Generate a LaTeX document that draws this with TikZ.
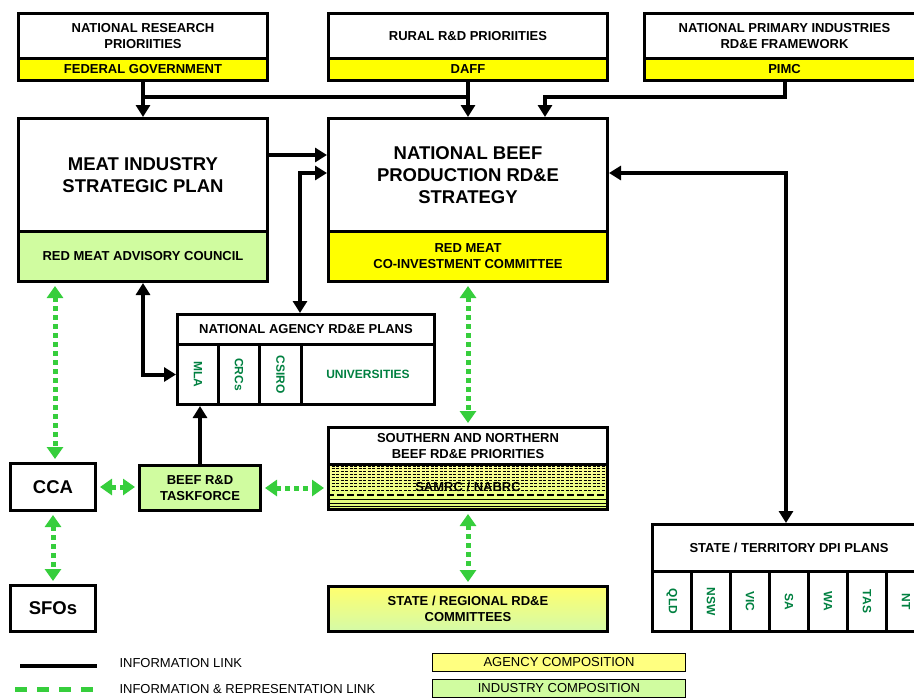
\documentclass[tikz,border=0pt]{standalone}
\usepackage{fontspec}
\setmainfont{Liberation Sans}
\usetikzlibrary{arrows.meta}
\usepackage{color}

\definecolor{band}{RGB}{255,255,0}
\definecolor{mint}{RGB}{208,252,160}
\definecolor{link}{RGB}{54,206,60}
\definecolor{agency}{RGB}{0,128,64}
\definecolor{paleyellow}{RGB}{255,255,128}
\definecolor{stripetop}{RGB}{255,255,150}
\definecolor{stripebot}{RGB}{225,255,120}
\definecolor{regtop}{RGB}{255,255,110}
\definecolor{regbot}{RGB}{212,250,168}

\begin{document}
\begin{tikzpicture}[x=1pt, y=-1pt,
    box/.style={draw, line width=3pt, anchor=north west, inner sep=0pt, align=center,
        font=\bfseries\fontsize{13}{16}\selectfont},
    title/.style={box, font=\bfseries\fontsize{18.5}{22}\selectfont},
    cell/.style={box, text=agency, font=\bfseries\fontsize{12}{14}\selectfont},
    info/.style={line width=4pt, -{Triangle[length=12pt,width=14pt]}},
    twoway/.style={line width=4pt, {Triangle[length=12pt,width=14pt]}-{Triangle[length=12pt,width=14pt]}},
    rep/.style={link, line width=5pt, dash pattern=on 5pt off 4pt,
        {Triangle[length=12pt,width=16pt]}-{Triangle[length=12pt,width=16pt]},
        shorten >=3pt, shorten <=3pt},
    key/.style={draw, line width=1pt, anchor=north west, minimum width=253pt, minimum height=18pt,
        inner sep=0pt, font=\fontsize{13}{16}\selectfont}]

    \clip (0,0) rectangle (914,697);

    % federal level
    \node[box, minimum width=249pt, minimum height=45pt] (nrp) at (17,12) {NATIONAL RESEARCH\\PRIORIITIES};
    \node[box, fill=band, minimum width=249pt, minimum height=22pt] (nrpband) at (17,57) {FEDERAL GOVERNMENT};

    \node[box, minimum width=279pt, minimum height=45pt] (rural) at (327,12) {RURAL R\&D PRIORIITIES};
    \node[box, fill=band, minimum width=279pt, minimum height=22pt] (ruralband) at (327,57) {DAFF};

    \node[box, minimum width=280pt, minimum height=45pt] (npi) at (643,12) {NATIONAL PRIMARY INDUSTRIES\\RD\&E FRAMEWORK};
    \node[box, fill=band, minimum width=280pt, minimum height=22pt] (npiband) at (643,57) {PIMC};

    % strategies
    \node[title, minimum width=249pt, minimum height=113pt] (misp) at (17,117) {MEAT INDUSTRY\\STRATEGIC PLAN};
    \node[box, fill=mint, minimum width=249pt, minimum height=50pt] (rmac) at (17,230) {RED MEAT ADVISORY COUNCIL};

    \node[title, minimum width=279pt, minimum height=113pt] (nbp) at (327,117) {NATIONAL BEEF\\PRODUCTION RD\&E\\STRATEGY};
    \node[box, fill=band, minimum width=279pt, minimum height=50pt] (rmcic) at (327,230) {RED MEAT\\CO-INVESTMENT COMMITTEE};

    % agencies
    \node[box, minimum width=257pt, minimum height=30pt] (nap) at (176,313) {NATIONAL AGENCY RD\&E PLANS};
    \node[cell, minimum width=41pt, minimum height=60pt] (mla) at (176,343) {\rotatebox{-90}{MLA}};
    \node[cell, minimum width=41pt, minimum height=60pt] (crc) at (217,343) {\rotatebox{-90}{CRCs}};
    \node[cell, minimum width=42pt, minimum height=60pt] (csiro) at (258,343) {\rotatebox{-90}{CSIRO}};
    \node[cell, minimum width=133pt, minimum height=60pt] (uni) at (300,343) {UNIVERSITIES};

    % regional
    \fill[top color=stripetop, bottom color=stripebot] (327,463) rectangle (606,508);
    \foreach \y in {466,468.5,471,474,477,480,483,486.5,490}
        \draw[line width=0.6pt, dash pattern=on 3pt off 1.5pt] (327,\y) -- (606,\y);
    \draw[line width=1.4pt, dash pattern=on 7pt off 3pt] (327,495) -- (606,495);
    \foreach \y in {499.5,503,506}
        \draw[line width=0.6pt] (327,\y) -- (606,\y);

    \node[box, minimum width=279pt, minimum height=37pt] (sn) at (327,426) {SOUTHERN AND NORTHERN\\BEEF RD\&E PRIORITIES};
    \node[box, minimum width=279pt, minimum height=45pt] (samrc) at (327,463) {SAMRC / NABRC};

    \node[box, top color=regtop, bottom color=regbot, minimum width=279pt, minimum height=45pt] (src) at (327,585) {STATE / REGIONAL RD\&E\\COMMITTEES};

    % industry
    \node[title, minimum width=85pt, minimum height=47pt] (cca) at (9,462) {CCA};
    \node[title, minimum width=85pt, minimum height=46pt] (sfo) at (9,584) {SFOs};
    \node[box, fill=mint, minimum width=121pt, minimum height=45pt] (task) at (138,464) {BEEF R\&D\\TASKFORCE};

    % states
    \node[box, minimum width=273pt, minimum height=47pt] (dpi) at (651,523) {STATE / TERRITORY DPI PLANS};
    \foreach \s [count=\i from 0] in {QLD,NSW,VIC,SA,WA,TAS,NT}
        \node[cell, minimum width=39pt, minimum height=60pt] (dpi\i) at (651+39*\i,570) {\rotatebox{-90}{\s}};

    % information links
    \draw[info] (nrpband.south) -- (misp.north);
    \draw[line width=4pt] (misp.north |- 0,97) -- (nbp.north |- 0,97);
    \draw[info] (ruralband.south) -- (nbp.north);
    \draw[info] (npiband.south) |- (545,97) -- (nbp.north -| 545,0);
    \draw[info] (misp.east |- 0,155) -- (nbp.west |- 0,155);
    \draw[twoway] (nap.north -| 300,0) |- (nbp.west |- 0,173);
    \draw[twoway] (rmac.south) |- (mla.west);
    \draw[info] (task.north) -- (task.north |- mla.south);
    \draw[twoway] (nbp.east |- 0,173) -| (dpi.north -| 786,0);

    % representation links
    \draw[rep] (rmac.south -| 55,0) -- (cca.north -| 55,0);
    \draw[rep] (cca.south) -- (sfo.north);
    \draw[rep] (cca.east) -- (cca.east -| task.west);
    \draw[rep] (task.east) -- (task.east -| samrc.west);
    \draw[rep] (rmcic.south) -- (sn.north);
    \draw[rep] (samrc.south) -- (src.north);

    % legend
    \coordinate (k1) at (20,666);
    \coordinate (k2) at (97,666);
    \coordinate (k3) at (15,689);
    \coordinate (k4) at (97,689);
    \draw[line width=4pt] (k1) -- (k2);
    \draw[link, line width=5pt, dash pattern=on 12pt off 10pt] (k3) -- (k4);
    \node[anchor=west, font=\fontsize{13}{16}\selectfont] (l1) at (116,663) {INFORMATION LINK};
    \node[anchor=west, font=\fontsize{13}{16}\selectfont] (l2) at (116,689) {INFORMATION \& REPRESENTATION LINK};
    \node[key, fill=paleyellow] (l3) at (432,653) {AGENCY COMPOSITION};
    \node[key, fill=mint] (l4) at (432,679) {INDUSTRY COMPOSITION};
\end{tikzpicture}
\end{document}
